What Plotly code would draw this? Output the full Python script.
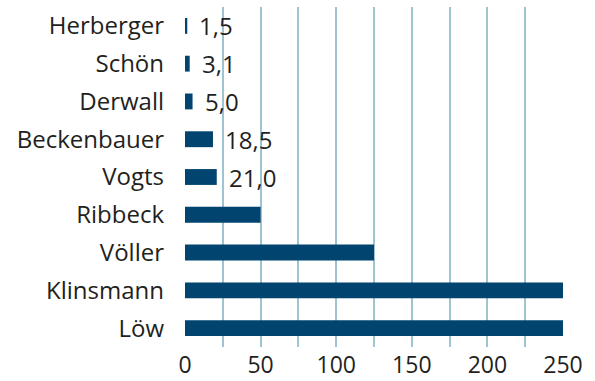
import plotly.graph_objects as go

# Bundestrainer and their values, top to bottom
coaches = ["Herberger", "Schön", "Derwall", "Beckenbauer", "Vogts",
           "Ribbeck", "Völler", "Klinsmann", "Löw"]
values = [1.5, 3.1, 5.0, 18.5, 21.0, 50, 125, 250, 250]
labelled = ["1,5", "3,1", "5,0", "18,5", "21,0", "", "", "", ""]

x_ticks = [0, 50, 100, 150, 200, 250]

BAR = "#00446f"
GRID = "#9ec4d2"
TEXT = "#231f20"
FONT = "Open Sans"
SIZE = 24

fig = go.Figure(
    go.Bar(
        x=values,
        y=coaches,
        orientation="h",
        marker=dict(color=BAR, line=dict(width=0)),
        width=0.42,
        hoverinfo="skip",
    )
)

# value labels next to the short bars
for name, val, lab in zip(coaches, values, labelled):
    if lab:
        fig.add_annotation(
            x=val, y=name, text=lab, showarrow=False,
            xanchor="left", yanchor="middle", xshift=10,
            font=dict(family=FONT, size=SIZE, color=TEXT),
        )

fig.update_layout(
    width=595,
    height=381,
    margin=dict(l=185, r=32, t=7, b=34),
    paper_bgcolor="white",
    plot_bgcolor="white",
    showlegend=False,
    font=dict(family=FONT, size=SIZE, color=TEXT),
    xaxis=dict(
        range=[0, 250],
        tickvals=x_ticks,
        ticktext=[str(v) for v in x_ticks],
        showgrid=True,
        gridcolor=GRID,
        gridwidth=1.5,
        zeroline=False,
        showline=False,
        ticks="",
        ticklabelstandoff=2,
        automargin=False,
        tickfont=dict(size=23),
        minor=dict(dtick=25, tick0=0, showgrid=True, gridcolor=GRID, gridwidth=1.5),
        fixedrange=True,
    ),
    yaxis=dict(
        categoryorder="array",
        categoryarray=coaches,
        autorange="reversed",
        showgrid=False,
        zeroline=False,
        showline=False,
        ticks="",
        ticklabelstandoff=20,
        automargin=False,
        fixedrange=True,
    ),
)

fig.write_html("out.html")
